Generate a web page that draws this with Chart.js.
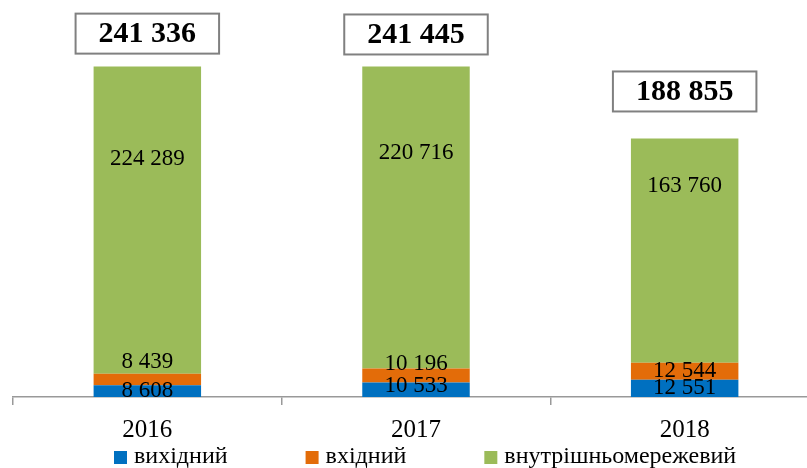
<!DOCTYPE html>
<html lang="uk">
<head>
    <meta charset="UTF-8">
    <title>Трафік</title>
    <script src="https://cdn.jsdelivr.net/npm/chart.js"></script>
    <style>
        html, body { margin: 0; padding: 0; background: #fff; overflow: hidden; }
        /* the original chart is cut off on the right, so the canvas is a bit wider than the page */
        #wrap { width: 807px; height: 468px; overflow: hidden; }
    </style>
</head>
<body>
<div id="wrap"><canvas id="trafficChart" width="819" height="468"></canvas></div>

<script>
    // data
    const years = ['2016', '2017', '2018'];
    const outgoing = [8608, 10533, 12551];     // вихідний
    const incoming = [8439, 10196, 12544];     // вхідний
    const internal = [224289, 220716, 163760]; // внутрішньомережевий
    const totals = [241336, 241445, 188855];

    const seriesNames = ['вихідний', 'вхідний', 'внутрішньомережевий'];
    const seriesColors = ['#0070C0', '#E36C09', '#9BBB59'];

    // label placement tweaks (pixels / fractions), kept apart from the data
    const labelShift = [[0, -4, 0], [-17, -12, 0], null];
    const greenLabelFrac = [0.30, 0.285, 0.21];
    const totalGap = [13, 12, 27];

    const fmt = v => String(v).replace(/\B(?=(\d{3})+(?!\d))/g, ' ');
    const serif = '"Liberation Serif", "DejaVu Serif", serif';

    // value labels inside bars + boxed totals
    const labelsPlugin = {
        id: 'labelsPlugin',
        afterDatasetsDraw(chart) {
            const ctx = chart.ctx;
            ctx.save();
            ctx.fillStyle = '#000';
            ctx.textAlign = 'center';
            ctx.textBaseline = 'middle';
            ctx.font = '23px ' + serif;
            chart.data.datasets.forEach((ds, di) => {
                chart.getDatasetMeta(di).data.forEach((bar, i) => {
                    let y;
                    if (di === 2) {
                        y = bar.y + greenLabelFrac[i] * (bar.base - bar.y);
                    } else {
                        y = (bar.y + bar.base) / 2 + labelShift[di][i];
                    }
                    ctx.fillText(fmt(ds.data[i]), bar.x, y);
                });
            });

            // totals in boxes
            const top = chart.getDatasetMeta(2).data;
            ctx.font = 'bold 30px ' + serif;
            top.forEach((bar, i) => {
                const txt = fmt(totals[i]);
                const w = ctx.measureText(txt).width + 46;
                const h = 40;
                const bottom = bar.y - totalGap[i];
                ctx.fillStyle = '#fff';
                ctx.fillRect(bar.x - w / 2, bottom - h, w, h);
                ctx.strokeStyle = '#808080';
                ctx.lineWidth = 2;
                ctx.strokeRect(bar.x - w / 2, bottom - h, w, h);
                ctx.fillStyle = '#000';
                ctx.fillText(txt, bar.x, bottom - h / 2 + 1);
            });
            ctx.restore();
        }
    };

    // legend row at the bottom
    const legendPlugin = {
        id: 'legendPlugin',
        afterDraw(chart) {
            const ctx = chart.ctx;
            ctx.save();
            ctx.font = '24px ' + serif;
            ctx.textBaseline = 'middle';
            ctx.textAlign = 'left';
            let x = 114;
            const y = 457;
            chart.data.datasets.forEach(ds => {
                ctx.fillStyle = ds.backgroundColor;
                ctx.fillRect(x, y - 6, 13, 13);
                ctx.fillStyle = '#000';
                ctx.fillText(ds.label, x + 20, y);
                x += 20 + ctx.measureText(ds.label).width + 78;
            });
            ctx.restore();
        }
    };

    const ctx = document.getElementById('trafficChart').getContext('2d');
    const chart = new Chart(ctx, {
        type: 'bar',
        data: {
            labels: years,
            datasets: [
                { label: seriesNames[0], data: outgoing, backgroundColor: seriesColors[0] },
                { label: seriesNames[1], data: incoming, backgroundColor: seriesColors[1] },
                { label: seriesNames[2], data: internal, backgroundColor: seriesColors[2] }
            ]
        },
        options: {
            responsive: false,
            animation: false,
            layout: { padding: { left: 13, right: 0, top: 0, bottom: 13 } },
            datasets: {
                bar: { categoryPercentage: 1, barPercentage: 0.4 }
            },
            plugins: {
                legend: { display: false },
                tooltip: { enabled: false }
            },
            scales: {
                x: {
                    stacked: true,
                    grid: {
                        display: true,
                        offset: true,
                        drawOnChartArea: false,
                        drawTicks: true,
                        tickLength: 8,
                        color: '#999',
                        lineWidth: 1.5
                    },
                    border: { display: true, color: '#999', width: 1.5 },
                    ticks: {
                        color: '#000',
                        padding: 10,
                        font: { family: serif, size: 25 }
                    }
                },
                y: {
                    stacked: true,
                    display: false,
                    min: 0,
                    max: 290000
                }
            }
        },
        plugins: [labelsPlugin, legendPlugin]
    });
</script>
</body>
</html>
